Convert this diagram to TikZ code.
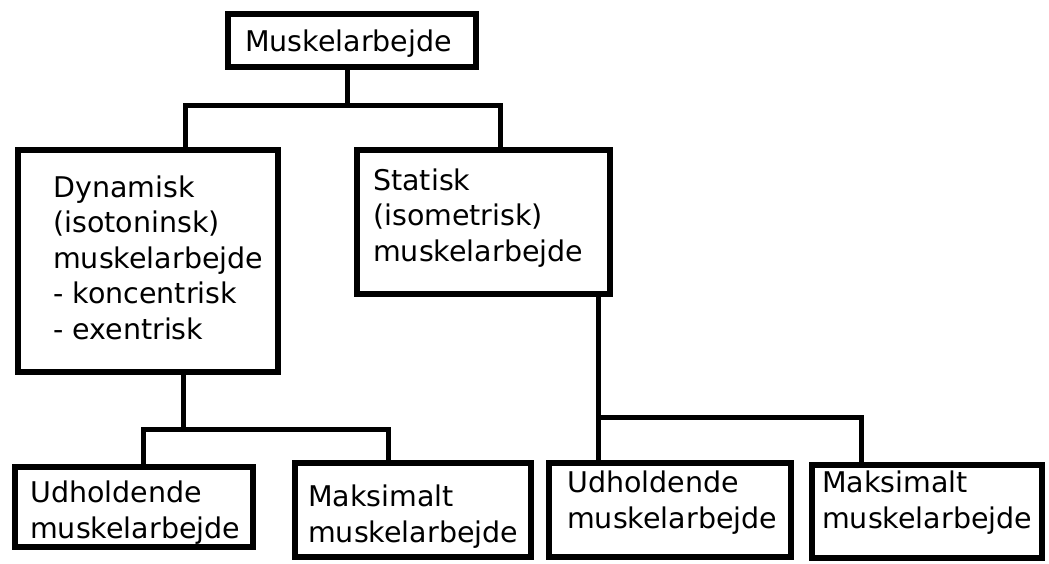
\documentclass[tikz,border=0pt]{standalone}
\usepackage{fontspec}
\setmainfont{DejaVu Sans}
\begin{document}
\begin{tikzpicture}[x=1pt,y=-1pt,
  box/.style={draw=black,line width=6pt,inner sep=0pt,outer sep=0pt,anchor=north west,fill=white},
  conn/.style={draw=black,line width=5pt},
  txt/.style={inner sep=0pt,anchor=base west,align=left,font=\fontsize{28.5}{35.5}\selectfont}]
\useasboundingbox[fill=white] (0,0) rectangle (1049,563);
% boxes
\node[box,minimum width=248pt,minimum height=53pt] (top) at (228,14) {};
\node[box,minimum width=260pt,minimum height=222pt] (dyn) at (18,150) {};
\node[box,minimum width=253pt,minimum height=144pt] (stat) at (357,150) {};
\node[box,minimum width=238pt,minimum height=80pt] (b1) at (15,467) {};
\node[box,minimum width=236pt,minimum height=94pt] (b2) at (295,463) {};
\node[box,minimum width=242pt,minimum height=94pt] (b3) at (549,463) {};
\node[box,minimum width=230pt,minimum height=93pt] (b4) at (812,465) {};
% texts (anchored at the baseline of their last line)
\node[txt] (ttop) at (245,51) {Muskelarbejde};
\node[txt] (tdyn) at (53,339) {Dynamisk\\(isotoninsk)\\muskelarbejde\\- koncentrisk\\- exentrisk};
\node[txt] (tstat) at (373,261) {Statisk\\(isometrisk)\\muskelarbejde};
\node[txt] (tb1) at (30,538) {Udholdende\\muskelarbejde};
\node[txt] (tb2) at (308,542) {Maksimalt\\muskelarbejde};
\node[txt] (tb3) at (567,528) {Udholdende\\muskelarbejde};
\node[txt] (tb4) at (822,528) {Maksimalt\\muskelarbejde};
% junctions
\coordinate (j0) at (347,105);
\coordinate (jL) at (185,105);
\coordinate (jR) at (500,105);
\coordinate (d0) at (183,429);
\coordinate (dL) at (143,429);
\coordinate (dR) at (388,429);
\coordinate (s0) at (598,417);
\coordinate (sR) at (861,417);
% connectors
\draw[conn] (top.south -| j0) -- (j0);
\draw[conn] (jL |- dyn.north) -- (jL) -- (jR) -- (jR |- stat.north);
\draw[conn] (dyn.south -| d0) -- (d0);
\draw[conn] (dL |- b1.north) -- (dL) -- (dR) -- (dR |- b2.north);
\draw[conn] (stat.south -| s0) -- (s0 |- b3.north);
\draw[conn] (s0) -- (sR) -- (sR |- b4.north);
\end{tikzpicture}
\end{document}
